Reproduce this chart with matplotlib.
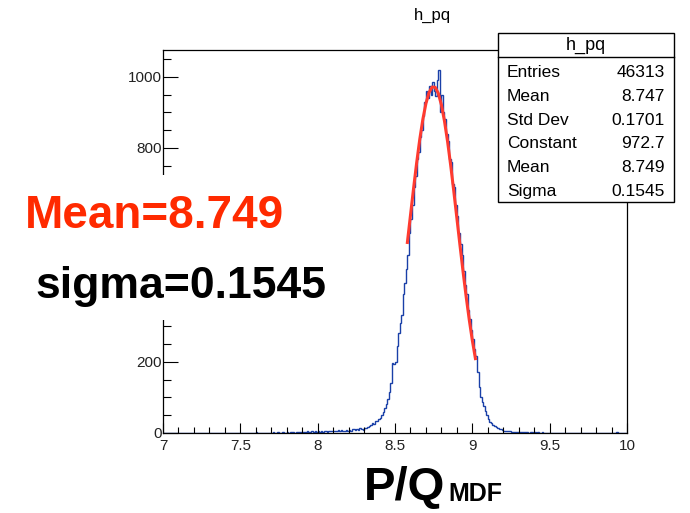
# ROOT-style histogram of P/Q with gaussian fit, redrawn with matplotlib
import numpy as np
import matplotlib
matplotlib.use('Agg')
import matplotlib.pyplot as plt
from matplotlib.patches import Rectangle
from matplotlib.lines import Line2D

plt.rcParams['font.family'] = ['Liberation Sans', 'DejaVu Sans']

# histogram: 300 bins of width 0.01 from 7.0 to 10.0 (counts)
bin_low = 7.0
bin_width = 0.01
counts = [
    0, 0, 0, 0, 0, 0, 0, 0, 0, 0,            # 7.0
    0, 0, 0, 0, 0, 0, 0, 0, 0, 0,            # 7.1
    0, 0, 0, 0, 0, 0, 0, 0, 0, 0,            # 7.2
    0, 0, 0, 0, 0, 0, 0, 0, 0, 0,            # 7.3
    0, 0, 0, 0, 0, 0, 0, 0, 0, 0,            # 7.4
    0, 0, 0, 0, 0, 0, 0, 0, 0, 1,            # 7.5
    2, 0, 0, 1, 0, 0, 0, 0, 1, 0,            # 7.6
    0, 2, 1, 0, 3, 1, 0, 2, 1, 0,            # 7.7
    2, 1, 3, 4, 2, 1, 3, 2, 4, 3,            # 7.8
    3, 4, 2, 5, 3, 4, 6, 3, 5, 4,            # 7.9
    5, 3, 6, 4, 7, 5, 4, 6, 5, 7,            # 8.0
    6, 5, 7, 8, 6, 9, 7, 6, 8, 7,            # 8.1
    9, 7, 10, 12, 8, 11, 9, 13, 10, 8,       # 8.2
    15, 14, 18, 20, 22, 28, 26, 33, 35, 40,  # 8.3
    42, 50, 58, 70, 80, 95, 115, 140, 196, 195,          # 8.4
    200, 245, 280, 310, 330, 390, 420, 460, 500, 560,    # 8.5
    600, 640, 690, 720, 770, 790, 830, 850, 890, 930,    # 8.6
    960, 940, 975, 950, 985, 960, 945, 990, 1020, 900,   # 8.7
    950, 900, 880, 840, 820, 770, 760, 700, 690, 640,    # 8.8
    610, 560, 530, 500, 455, 415, 390, 345, 320, 290,    # 8.9
    265, 235, 215, 170, 130, 100, 88, 76, 62, 50,        # 9.0
    40, 32, 28, 22, 19, 16, 14, 12, 10, 9,   # 9.1
    7, 6, 6, 5, 5, 4, 4, 3, 4, 3,            # 9.2
    3, 2, 3, 2, 2, 3, 1, 2, 2, 1,            # 9.3
    2, 1, 2, 1, 1, 2, 1, 1, 0, 1,            # 9.4
    1, 0, 1, 1, 0, 1, 0, 1, 0, 0,            # 9.5
    0, 0, 0, 0, 0, 0, 0, 0, 0, 0,            # 9.6
    0, 0, 0, 0, 0, 0, 0, 0, 0, 0,            # 9.7
    0, 0, 0, 0, 0, 0, 0, 0, 0, 0,            # 9.8
    0, 0, 0, 2, 0, 0, 0, 0, 0, 0,            # 9.9
]

# fitted gaussian as drawn (red curve)
fit_x = [8.58, 8.60, 8.62, 8.64, 8.66, 8.68, 8.70, 8.72, 8.74, 8.76, 8.78, 8.80,
         8.82, 8.84, 8.86, 8.88, 8.90, 8.92, 8.94, 8.96, 8.98, 9.00, 9.02]
fit_y = [534.8, 611.0, 686.4, 758.4, 824.0, 880.4, 924.9, 955.7, 971.0, 970.2, 953.3, 921.2,
         875.2, 817.8, 751.4, 679.0, 603.4, 527.2, 453.0, 382.9, 318.1, 259.9, 208.8]

x_ticks = [7, 7.5, 8, 8.5, 9, 9.5, 10]
x_tick_labels = ['7', '7.5', '8', '8.5', '9', '9.5', '10']
y_ticks = [0, 200, 400, 600, 800, 1000]
# 400 and 600 sit behind the white patch in the original
y_tick_labels = ['0', '200', '', '', '800', '1000']

stats_names = ['Entries', 'Mean', 'Std Dev', 'Constant', 'Mean', 'Sigma']
stats_values = ['46313', '8.747', '0.1701', '972.7', '8.749', '0.1545']

W, H = 690, 513


def fx(px):
    return px / W


def fy(py):
    return 1 - py / H


fig = plt.figure(figsize=(6.9, 5.13), dpi=100)
ax = fig.add_axes([fx(163), fy(433), (627 - 163) / W, (433 - 50) / H])

edges = bin_low + bin_width * np.arange(len(counts) + 1)
ax.stairs(counts, edges, color='#1a40a8', linewidth=1.0)
ax.plot(fit_x, fit_y, color='#ff3b30', linewidth=2.2)

ax.set_xlim(7, 10)
ax.set_ylim(0, 1075)
ax.set_xticks(x_ticks)
ax.set_xticklabels(x_tick_labels)
ax.set_xticks(np.arange(7, 10.01, 0.1), minor=True)
ax.set_yticks(y_ticks)
ax.set_yticklabels(y_tick_labels)
ax.set_yticks(np.arange(0, 1075, 50), minor=True)
ax.tick_params(axis='x', which='major', direction='in', length=7, width=0.8, pad=4,
               labelsize=11, labelcolor='#222222')
ax.tick_params(axis='x', which='minor', direction='in', length=4.3, width=0.8)
ax.tick_params(axis='y', which='major', direction='in', length=11, width=0.8, pad=1,
               labelsize=11, labelcolor='#222222')
ax.tick_params(axis='y', which='minor', direction='in', length=6, width=0.8)
for sp in ax.spines.values():
    sp.set_linewidth(0.9)

# title
fig.text(fx(432), fy(15), 'h_pq', ha='center', va='center', fontsize=12)

# stats box
fig.add_artist(Rectangle((fx(498), fy(202)), (674 - 498) / W, (202 - 33) / H,
                         transform=fig.transFigure, facecolor='white',
                         edgecolor='black', linewidth=1.0, zorder=5))
fig.add_artist(Line2D([fx(498), fx(674)], [fy(57), fy(57)], transform=fig.transFigure,
                      color='black', linewidth=1.0, zorder=6))
fig.text(fx(586), fy(45), 'h_pq', ha='center', va='center', fontsize=13, zorder=7)
for i, (name, val) in enumerate(zip(stats_names, stats_values)):
    yb = 77 + i * 23.8
    fig.text(fx(507), fy(yb), name, ha='left', va='baseline', fontsize=12.5, zorder=7)
    fig.text(fx(665), fy(yb), val, ha='right', va='baseline', fontsize=12.5, zorder=7)

# white patch hiding part of the y axis behind the annotations
fig.add_artist(Rectangle((0, fy(320)), fx(345), (320 - 175) / H,
                         transform=fig.transFigure, facecolor='white',
                         edgecolor='none', zorder=5))
fig.text(fx(25), fy(228), 'Mean=8.749', color='#ff2a00', fontsize=33,
         fontweight='bold', ha='left', va='baseline', zorder=7)
fig.text(fx(35), fy(298), 'sigma=0.1545', color='black', fontsize=32,
         fontweight='bold', ha='left', va='baseline', zorder=7)

# x axis label
fig.text(fx(364), fy(500), 'P/Q', fontsize=34, fontweight='bold',
         ha='left', va='baseline')
fig.text(fx(448), fy(501), 'MDF', fontsize=18, fontweight='bold',
         ha='left', va='baseline')

fig.savefig('out.png', dpi=100)
